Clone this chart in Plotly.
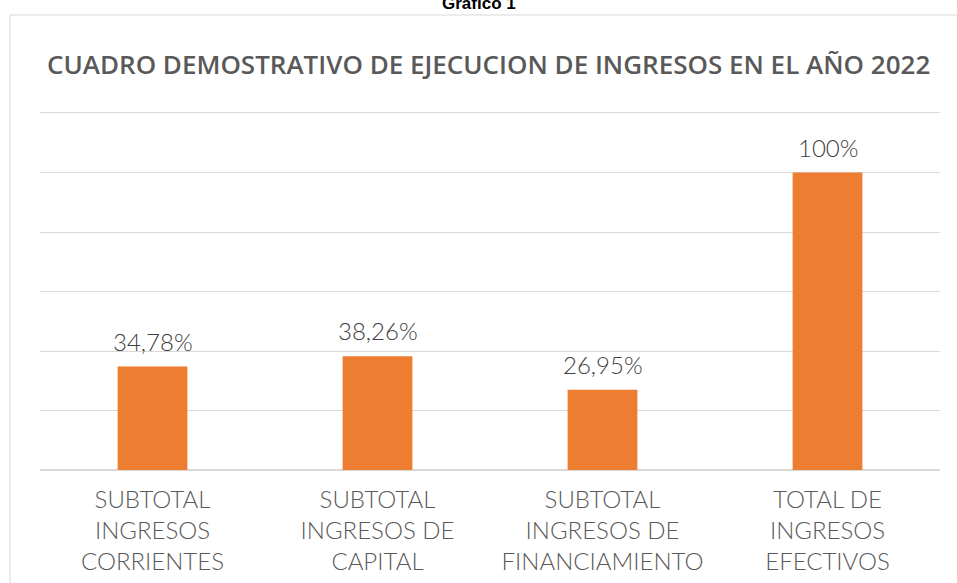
import plotly.graph_objects as go

categories = ["SUBTOTAL<br>INGRESOS<br>CORRIENTES", "SUBTOTAL<br>INGRESOS DE<br>CAPITAL",
              "SUBTOTAL<br>INGRESOS DE<br>FINANCIAMIENTO", "TOTAL DE<br>INGRESOS<br>EFECTIVOS"]
values = [0.3478, 0.3826, 0.2695, 1.00]

def fmt(v):
    p = v * 100
    if abs(p - round(p)) < 1e-9:
        return f"{int(round(p))}%"
    return f"{p:.2f}".replace(".", ",") + "%"

labels = [fmt(v) for v in values]

fig = go.Figure()
fig.add_trace(go.Bar(
    x=categories, y=values,
    marker=dict(color="#ED7D31", line=dict(width=0)),
    width=0.31, hoverinfo="x+y",
))

label_annotations = [
    dict(x=c, y=v, text=t, xref="x", yref="y", showarrow=False, xanchor="center",
         yanchor="bottom", yshift=9,
         font=dict(family="Lato", size=24, color="#404040", weight=300))
    for c, v, t in zip(categories, values, labels)
]

fig.update_layout(
    width=957, height=583,
    margin=dict(l=40, r=17, t=113, b=113, autoexpand=False),
    paper_bgcolor="white", plot_bgcolor="white",
    showlegend=False,
    yaxis=dict(range=[0, 1.2], dtick=0.2, showticklabels=False, showgrid=True,
               gridcolor="#d9d9d9", gridwidth=1, zeroline=True, zerolinecolor="#d9d9d9",
               zerolinewidth=2, fixedrange=True, automargin=False),
    xaxis=dict(tickfont=dict(family="Lato", size=24, color="#595959", weight=300),
               showline=True, mirror=True, linecolor="#d9d9d9", linewidth=1,
               ticks="", ticklabelstandoff=8, fixedrange=True, automargin=False),
    shapes=[dict(type="rect", xref="paper", yref="paper", x0=-0.0333, x1=1.05, y0=-0.5, y1=1.2745,
                 line=dict(color="#d9d9d9", width=1), fillcolor="rgba(0,0,0,0)", layer="below")],
    annotations=label_annotations + [
        dict(text="CUADRO DEMOSTRATIVO DE EJECUCION DE INGRESOS EN EL AÑO 2022", xref="paper", yref="paper",
             x=0.498, y=1.137, xanchor="center", yanchor="middle", showarrow=False,
             font=dict(family="Open Sans", size=26, color="#595959", weight=600)),
        dict(text="<b>Gráfico 1</b>", xref="paper", yref="paper", x=0.488, y=1.308,
             xanchor="center", yanchor="middle", showarrow=False,
             font=dict(family="Liberation Sans", size=17, color="#000000")),
    ],
)

fig.write_html("out.html", config={"displayModeBar": False},
               post_script="document.body.style.margin='0px';")
